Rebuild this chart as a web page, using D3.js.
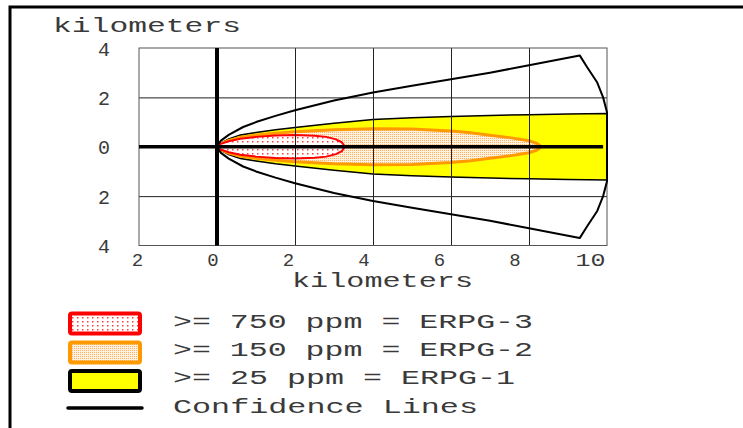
<!DOCTYPE html>
<html>
<head>
<meta charset="utf-8">
<script src="https://d3js.org/d3.v7.min.js"></script>
<style>
  body { margin: 0; background: #fff; }
  svg text { font-family: "Liberation Mono", monospace; fill: #3a3a3a; }
</style>
</head>
<body>
<svg id="chart" width="743" height="428"></svg>
<script>
  // tick values (km)
  const xTicks = [-2, 0, 2, 4, 6, 8, 10];
  const yTicks = [4, 2, 0, -2, -4];

  // threat zones: downwind distance (km) and half width (km)
  const erpg1X    = [0, 0.1, 0.3, 0.6, 1, 1.5, 2, 3, 4, 5, 6, 7, 8, 9, 10];
  const erpg1Half = [0, 0.15, 0.32, 0.48, 0.58, 0.69, 0.78, 0.95, 1.1, 1.17, 1.23, 1.27, 1.3, 1.33, 1.35];

  const erpg2X    = [0, 0.1, 0.3, 0.6, 1, 1.5, 2, 3, 4, 5, 6, 6.5, 7, 7.5, 8, 8.2, 8.32];
  const erpg2Half = [0, 0.12, 0.26, 0.38, 0.47, 0.55, 0.61, 0.69, 0.73, 0.72, 0.64, 0.57, 0.47, 0.37, 0.24, 0.14, 0];

  const erpg3X    = [0, 0.1, 0.3, 0.6, 1, 1.5, 2, 2.5, 2.8, 3.05, 3.2, 3.28];
  const erpg3Half = [0, 0.12, 0.22, 0.32, 0.4, 0.46, 0.48, 0.45, 0.4, 0.3, 0.18, 0];

  // confidence lines (upper half, mirrored below)
  const confX    = [0, 0.1, 0.3, 0.67, 1, 1.5, 2, 3, 4, 5, 6, 7, 8, 9.3, 9.5, 9.75, 9.9, 10];
  const confHalf = [0, 0.25, 0.48, 0.8, 1.0, 1.25, 1.48, 1.87, 2.2, 2.47, 2.73, 3.0, 3.3, 3.7, 3.2, 2.6, 2.0, 1.4];

  const legendLabels = [">= 750 ppm = ERPG-3", ">= 150 ppm = ERPG-2", ">= 25 ppm = ERPG-1", "Confidence Lines"];

  const svg = d3.select("#chart");

  const x = d3.scaleLinear().domain([-2, 10]).range([139, 607]);
  const y = d3.scaleLinear().domain([-4, 4]).range([245.5, 48]);
  // labels in the original sit slightly left of their grid lines
  const xLabel = d3.scaleLinear().domain([-2, 10]).range([137, 590]);

  const defs = svg.append("defs");
  const redDots = defs.append("pattern").attr("id", "redDots")
      .attr("width", 5).attr("height", 4).attr("patternUnits", "userSpaceOnUse");
  redDots.append("rect").attr("width", 5).attr("height", 4).attr("fill", "#fff");
  redDots.append("rect").attr("x", 2).attr("y", 1).attr("width", 1.5).attr("height", 1.5).attr("fill", "#ff3c3c");

  const orangeDots = defs.append("pattern").attr("id", "orangeDots")
      .attr("width", 2).attr("height", 2).attr("patternUnits", "userSpaceOnUse");
  orangeDots.append("rect").attr("width", 2).attr("height", 2).attr("fill", "#fff1e0");
  orangeDots.append("rect").attr("width", 1).attr("height", 1).attr("fill", "#ffb060");

  // outer frame
  svg.append("path").attr("d", "M10,428 V7 H743")
      .attr("fill", "none").attr("stroke", "#000").attr("stroke-width", 3);

  const line = d3.line().x(d => x(d[0])).y(d => y(d[1]));

  function zone(xs, hs) {
    const up = xs.map((v, i) => [v, hs[i]]);
    const down = xs.map((v, i) => [v, -hs[i]]).reverse();
    return up.concat(down);
  }

  svg.append("path").attr("d", line(zone(erpg1X, erpg1Half)) + "Z")
      .attr("fill", "#ffff00").attr("stroke", "#000").attr("stroke-width", 1.5);
  svg.append("path").attr("d", line(zone(erpg2X, erpg2Half)) + "Z")
      .attr("fill", "url(#orangeDots)").attr("stroke", "#ff9900").attr("stroke-width", 3);
  svg.append("path").attr("d", line(zone(erpg3X, erpg3Half)) + "Z")
      .attr("fill", "url(#redDots)").attr("stroke", "#ff0000").attr("stroke-width", 2);

  // grid
  svg.append("g")
      .attr("transform", "translate(0," + y(-4) + ")")
      .call(d3.axisBottom(x).tickValues([2, 4, 6, 8]).tickSize(y(-4) - y(4)).tickSizeOuter(0).tickFormat(""))
      .call(g => g.select(".domain").remove())
      .call(g => g.selectAll("line").attr("stroke", "#222").attr("transform", "translate(0," + (y(4) - y(-4)) + ")"));
  svg.append("g")
      .attr("transform", "translate(" + x(-2) + ",0)")
      .call(d3.axisRight(y).tickValues([2, -2]).tickSize(x(10) - x(-2)).tickFormat(""))
      .call(g => g.select(".domain").remove())
      .call(g => g.selectAll("line").attr("stroke", "#222"));
  svg.append("rect")
      .attr("x", x(-2)).attr("y", y(4))
      .attr("width", x(10) - x(-2)).attr("height", y(-4) - y(4))
      .attr("fill", "none").attr("stroke", "#555").attr("stroke-width", 1);

  // confidence lines
  svg.append("path").attr("d", line(zone(confX, confHalf)))
      .attr("fill", "none").attr("stroke", "#000").attr("stroke-width", 2)
      .attr("stroke-linejoin", "round");

  // main axes through the origin
  svg.append("line").attr("x1", x(-2)).attr("x2", x(9.9)).attr("y1", y(0)).attr("y2", y(0))
      .attr("stroke", "#000").attr("stroke-width", 3.5);
  svg.append("line").attr("x1", x(0)).attr("x2", x(0)).attr("y1", y(4)).attr("y2", y(-4))
      .attr("stroke", "#000").attr("stroke-width", 4);

  // tick labels
  const yAxis = svg.append("g")
      .attr("transform", "translate(110,0)")
      .call(d3.axisLeft(y).tickValues(yTicks).tickSize(0).tickPadding(0).tickFormat(d => Math.abs(d)))
      .call(g => g.select(".domain").remove());
  yAxis.selectAll("text").attr("font-size", 20).attr("font-family", null).attr("dy", "0.35em").attr("fill", null);

  const xAxis = svg.append("g")
      .attr("transform", "translate(0,266)")
      .call(d3.axisBottom(xLabel).tickValues(xTicks).tickSize(0).tickPadding(0).tickFormat(d => Math.abs(d)))
      .call(g => g.select(".domain").remove());
  xAxis.selectAll("text").attr("font-size", 19).attr("font-family", null).attr("dy", 0).attr("fill", null)
      .attr("textLength", d => d === 10 ? 30 : null)
      .attr("lengthAdjust", "spacingAndGlyphs");

  // axis titles
  svg.append("text").attr("x", 53).attr("y", 32).attr("font-size", 21)
      .attr("textLength", 188).attr("lengthAdjust", "spacingAndGlyphs").text("kilometers");
  svg.append("text").attr("x", 292).attr("y", 287).attr("font-size", 20)
      .attr("textLength", 181).attr("lengthAdjust", "spacingAndGlyphs").text("kilometers");

  // legend
  const rowY = [323.5, 352.5, 381, 408];
  const boxStyles = [
    { fill: "url(#redDots)", stroke: "#ff0000" },
    { fill: "url(#orangeDots)", stroke: "#ff9900" },
    { fill: "#ffff00", stroke: "#000" }
  ];
  boxStyles.forEach((b, i) => {
    svg.append("rect")
        .attr("x", 70).attr("y", rowY[i] - 10).attr("width", 70).attr("height", 20)
        .attr("rx", 2).attr("fill", b.fill).attr("stroke", b.stroke).attr("stroke-width", 4);
  });
  svg.append("line").attr("x1", 68).attr("x2", 142).attr("y1", rowY[3]).attr("y2", rowY[3])
      .attr("stroke", "#000").attr("stroke-width", 3.5).attr("stroke-linecap", "round");

  const textBase = [328, 356, 384, 413];
  const textLen = [360, 360, 342, 305];
  legendLabels.forEach((t, i) => {
    svg.append("text").attr("x", 173).attr("y", textBase[i]).attr("font-size", 21)
        .attr("textLength", textLen[i]).attr("lengthAdjust", "spacingAndGlyphs")
        .attr("xml:space", "preserve").text(t);
  });
</script>
</body>
</html>
